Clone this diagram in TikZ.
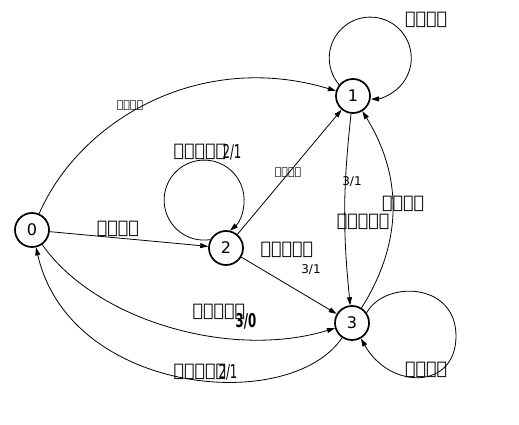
\documentclass[tikz,border=0pt]{standalone}
\usepackage{fontspec}
\setmainfont{DejaVu Sans}
\usetikzlibrary{arrows.meta}
\newcommand\tofu{\XeTeXglyph0\relax}
\newcommand\tofuiv{\tofu\tofu\tofu\tofu}
\newcommand\tofuv{\tofu\tofu\tofu\tofu\tofu}
\tikzset{
  st/.style={circle, draw, line width=1.7pt, minimum size=34pt, inner sep=0pt, font=\fontsize{16}{16}\selectfont},
  e/.style={draw, line width=0.8pt, -{Triangle[length=8pt,width=5pt]}},
  lb/.style={inner sep=0pt, font=\fontsize{17.5}{17.5}\selectfont},
  ls/.style={inner sep=0pt, font=\fontsize{11}{11}\selectfont},
  lm/.style={inner sep=0pt, font=\fontsize{12}{12}\selectfont},
  nar/.style={inner sep=0pt, font=\fontsize{19}{19}\selectfont, xscale=0.62},
}
\begin{document}
\begin{tikzpicture}[x=1pt,y=-1pt]
\useasboundingbox (0,0) rectangle (519,425);
\node[st] (n0) at (32,230) {0};
\node[st] (n1) at (353,96) {1};
\node[st] (n2) at (226,248) {2};
\node[st] (n3) at (352,323) {3};
% edges
\draw[e] (n0) .. controls (80,120) and (200,50) .. (n1);
\draw[e] (n0) -- (n2);
\draw[e] (n0) .. controls (95,320) and (230,360) .. (n3);
\draw[e] (n3) .. controls (290,415) and (70,395) .. (n0);
\draw[e] (n2) -- (n1);
\draw[e] (n2) -- (n3);
\draw[e] (n1) to[bend right=6] (n3);
\draw[e] (n3) to[bend right=32] (n1);
% self loops
\draw[e] (n1.141.5) arc[start angle=139.4, end angle=448.9, radius=41];
\draw[e] (n2.152) arc[start angle=81.2, end angle=409.7, radius=40];
\draw[e] (n3.35) .. controls (385,280) and (456,282) .. (456,336)
                 .. controls (456,390) and (390,390) .. (n3.-60);
% labels
\node[ls] (l01) at (130,106) {\tofuiv};
\node[lb] (l22) at (200,152) {\tofuv};
\node[nar] (l22n) at (232,152) {2/1};
\node[lb] (l02) at (118,229) {\tofuiv};
\node[ls] (l21) at (288,173) {\tofuiv};
\node[lm] (l13n) at (352,182) {3/1};
\node[lb] (l13) at (363,222) {\tofuv};
\node[lb] (l31) at (403,204) {\tofuiv};
\node[lb] (l23) at (287,250) {\tofuv};
\node[lm] (l23n) at (311,270) {3/1};
\node[lb] (l03) at (219,312) {\tofuv};
\node[nar] (l03n) at (246,321) {\bfseries 3/0};
\node[lb] (l30) at (200,372) {\tofuv};
\node[nar] (l30n) at (228,372) {2/1};
\node[lb] (l11) at (426,20) {\tofuiv};
\node[lb] (l33) at (426,370) {\tofuiv};
\end{tikzpicture}
\end{document}
